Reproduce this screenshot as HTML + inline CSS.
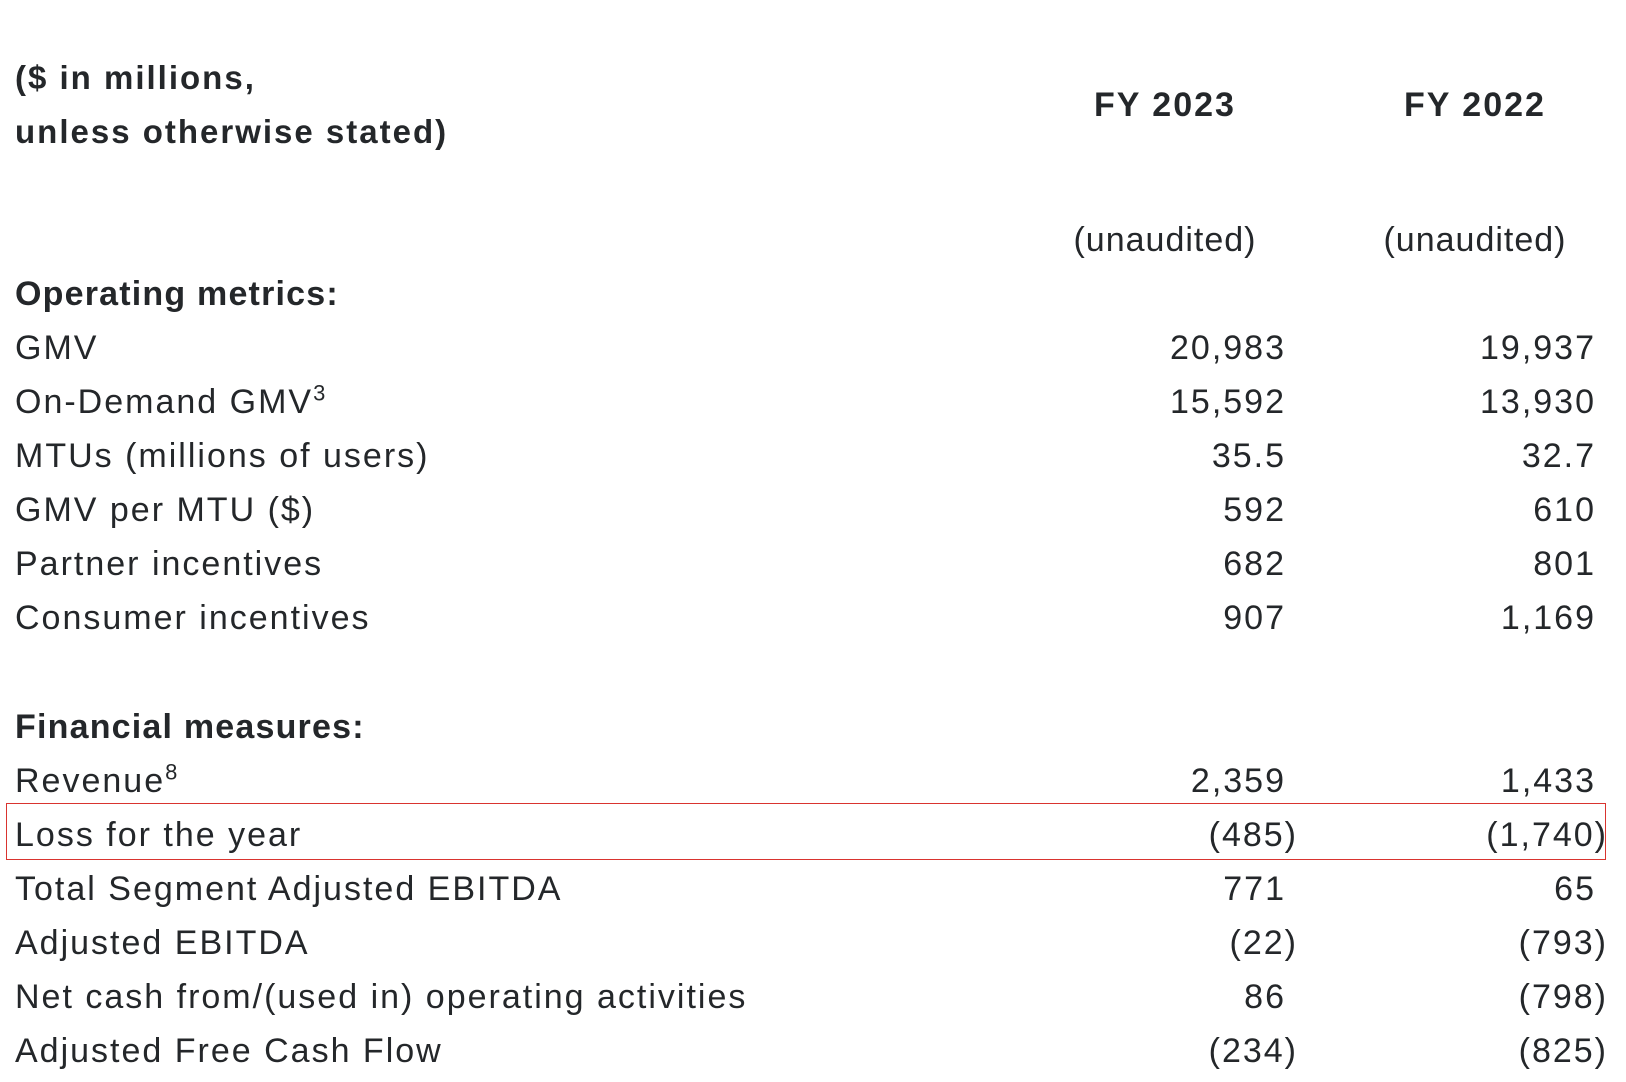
<!DOCTYPE html>
<html><head><style>
body{margin:0;width:1626px;height:1082px;background:#fff;position:relative;overflow:hidden;font-family:"Liberation Sans",Arial,sans-serif;color:#24272a;}
.t{position:absolute;font-size:34px;line-height:40px;white-space:nowrap;letter-spacing:2px;}
.b{font-weight:bold;}
.l{left:15px;}
.r1{right:340px;text-align:right;}
.r2{right:30px;text-align:right;}
.p1{right:328px;}
.p2{right:18px;}
.c{text-align:center;width:300px;}
sup{font-size:22px;line-height:0;vertical-align:super;}
</style></head><body>
<div class="t b l" style="top:58px;font-size:33px">($ in millions,</div>
<div class="t b l" style="top:112px;font-size:33px">unless otherwise stated)</div>
<div class="t b c" style="left:1015px;top:85px">FY 2023</div>
<div class="t b c" style="left:1325px;top:85px">FY 2022</div>
<div class="t c" style="left:1015px;top:220px;letter-spacing:1px">(unaudited)</div>
<div class="t c" style="left:1325px;top:220px;letter-spacing:1px">(unaudited)</div>
<div class="t b l" style="top:274px;letter-spacing:1.2px">Operating metrics:</div>

<div class="t l" style="top:328px">GMV</div><div class="t r1" style="top:328px">20,983</div><div class="t r2" style="top:328px">19,937</div>
<div class="t l" style="top:382px">On-Demand GMV<sup>3</sup></div><div class="t r1" style="top:382px">15,592</div><div class="t r2" style="top:382px">13,930</div>
<div class="t l" style="top:436px">MTUs (millions of users)</div><div class="t r1" style="top:436px">35.5</div><div class="t r2" style="top:436px">32.7</div>
<div class="t l" style="top:490px">GMV per MTU ($)</div><div class="t r1" style="top:490px">592</div><div class="t r2" style="top:490px">610</div>
<div class="t l" style="top:544px">Partner incentives</div><div class="t r1" style="top:544px">682</div><div class="t r2" style="top:544px">801</div>
<div class="t l" style="top:598px">Consumer incentives</div><div class="t r1" style="top:598px">907</div><div class="t r2" style="top:598px">1,169</div>

<div class="t b l" style="top:707px;letter-spacing:1.2px">Financial measures:</div>
<div class="t l" style="top:761px">Revenue<sup>8</sup></div><div class="t r1" style="top:761px">2,359</div><div class="t r2" style="top:761px">1,433</div>
<div style="position:absolute;left:6px;top:803px;width:1600px;height:57px;border:1px solid #d9342f;box-sizing:border-box"></div>
<div class="t l" style="top:815px">Loss for the year</div><div class="t p1" style="top:815px">(485)</div><div class="t p2" style="top:815px">(1,740)</div>
<div class="t l" style="top:869px">Total Segment Adjusted EBITDA</div><div class="t r1" style="top:869px">771</div><div class="t r2" style="top:869px">65</div>
<div class="t l" style="top:923px">Adjusted EBITDA</div><div class="t p1" style="top:923px">(22)</div><div class="t p2" style="top:923px">(793)</div>
<div class="t l" style="top:977px">Net cash from/(used in) operating activities</div><div class="t r1" style="top:977px">86</div><div class="t p2" style="top:977px">(798)</div>
<div class="t l" style="top:1031px">Adjusted Free Cash Flow</div><div class="t p1" style="top:1031px">(234)</div><div class="t p2" style="top:1031px">(825)</div>
</body></html>
